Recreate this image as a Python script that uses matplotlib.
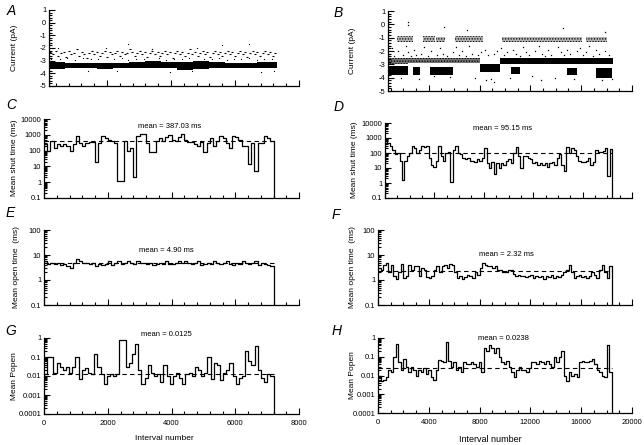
import numpy as np
import matplotlib
matplotlib.use("Agg")
import matplotlib.pyplot as plt
from matplotlib.ticker import MultipleLocator, LogLocator, FixedLocator, NullFormatter

plt.rcParams['font.family'] = ['Liberation Sans', 'DejaVu Sans']
plt.rcParams['axes.unicode_minus'] = False
plt.rcParams['hatch.linewidth'] = 0.6

# ---------------- data ----------------
# A: single-channel current, dense band + scattered dots (pA)
a_band_x = [200, 700, 1200, 1700, 2200, 2700, 3200, 3700, 4200, 4700, 5200, 5700, 6200, 6700, 7300]
a_band_lo = [-3.65, -3.6, -3.6, -3.65, -3.6, -3.6, -3.6, -3.55, -3.7, -3.65, -3.6, -3.6, -3.6, -3.6]
a_band_hi = [-3.1, -3.2, -3.2, -3.15, -3.15, -3.1, -3.0, -3.1, -3.1, -3.0, -3.1, -3.15, -3.15, -3.1]
a_dot_x = [230, 300, 420, 480, 560, 650, 720, 800, 870, 980, 1060, 1120, 1210, 1290, 1370,
           1440, 1520, 1600, 1690, 1770, 1840, 1930, 2010, 2090, 2160, 2240, 2320, 2400, 2470,
           2560, 2640, 2710, 2790, 2870, 2950, 3030, 3110, 3190, 3260, 3340, 3420, 3500, 3580,
           3650, 3730, 3810, 3890, 3970, 4050, 4120, 4200, 4280, 4360, 4440, 4520, 4600, 4670,
           4750, 4830, 4910, 4990, 5060, 5140, 5220, 5300, 5380, 5460, 5530, 5610, 5690, 5770,
           5850, 5920, 6000, 6080, 6160, 6240, 6310, 6390, 6470, 6550, 6630, 6700, 6780, 6860,
           6940, 7020, 7100, 7180, 7260]
a_dot_y = [-2.3, -2.5, -2.2, -2.6, -2.4, -2.3, -2.7, -2.2, -2.5, -2.4, -2.1, -2.6, -2.3, -2.5,
           -2.8, -2.4, -2.2, -2.5, -2.3, -2.6, -2.4, -2.2, -2.7, -2.3, -2.5, -2.4, -2.2, -2.6,
           -2.3, -2.5, -2.4, -2.1, -2.3, -2.6, -2.4, -2.2, -2.5, -2.3, -2.7, -2.4, -2.2, -2.5,
           -2.3, -2.6, -2.4, -2.2, -2.5, -2.3, -2.8, -2.4, -2.2, -2.5, -2.3, -2.6, -2.4, -2.1,
           -2.5, -2.3, -2.6, -2.4, -2.2, -2.5, -2.3, -2.7, -2.4, -2.2, -2.5, -2.3, -2.6, -2.4,
           -2.2, -2.5, -2.3, -2.6, -2.4, -2.2, -2.5, -2.3, -2.7, -2.4, -2.2, -2.5, -2.3, -2.6,
           -2.4, -2.2, -2.5, -2.3, -2.6, -2.4]
a_dot2_x = [260, 520, 760, 1010, 1250, 1500, 1730, 1980, 2210, 2460, 2660, 2900, 3150, 3400,
            3620, 3860, 4100, 4330, 4570, 4800, 5040, 5270, 5500, 5740, 5980, 6200, 6450, 6690,
            6910, 7150, 470, 2660, 5580, 6450, 3980, 1400, 4650, 6800, 2300, 7230]
a_dot2_y = [-2.85, -2.9, -2.75, -2.95, -2.8, -2.9, -2.85, -2.0, -2.9, -2.8, -2.95, -2.85,
            -2.9, -2.05, -2.8, -2.95, -2.85, -2.9, -2.8, -2.0, -2.9, -2.85, -2.8, -2.95, -2.85,
            -2.9, -2.8, -2.95, -2.85, -2.9, -2.0, -1.7, -1.75, -1.65, -3.9, -3.85, -3.8, -3.9,
            -3.8, -3.85]

# B: current with three levels
b_dense_x0 = [790, 2750, 4100, 8000, 9600, 10500, 14900, 17200]
b_dense_x1 = [2350, 3300, 5900, 9600, 18500, 11200, 15700, 18450]
b_dense_lo = [-3.8, -3.8, -3.8, -3.55, -2.95, -3.7, -3.8, -4.0]
b_dense_hi = [-3.1, -3.2, -3.2, -2.95, -2.55, -3.2, -3.3, -3.3]
b_mid_x0 = [790, 2350]
b_mid_x1 = [2350, 8000]
b_mid_lo = [-2.95, -2.9]
b_mid_hi = [-2.5, -2.55]
b_up_x0 = [1500, 3540, 4600, 6060, 9760, 16400]
b_up_x1 = [2750, 4490, 5270, 8260, 16100, 18000]
b_up_lo = [-1.3, -1.3, -1.35, -1.3, -1.35, -1.35]
b_up_hi = [-0.9, -0.9, -0.95, -0.85, -0.95, -0.95]
b_dot_x = [900, 1100, 1300, 1600, 1800, 2000, 2200, 2400, 2600, 2850, 3000, 3200, 3400, 3650,
           3900, 4150, 4400, 4650, 4900, 5150, 5400, 5650, 5900, 6150, 6400, 6650, 6900, 7150,
           7400, 7650, 7900, 8150, 8400, 8650, 8900, 9150, 9400, 9650, 9900, 10150, 10400,
           10650, 10900, 11150, 11400, 11650, 11900, 12150, 12400, 12650, 12900, 13150, 13400,
           13650, 13900, 14150, 14400, 14650, 14900, 15150, 15400, 15650, 15900, 16150, 16400,
           16650, 16900, 17150, 17400, 17650, 17900, 18150, 18400, 2360, 2400, 7000, 14560,
           17860, 8500, 9100, 12800, 5200]
b_dot_y = [-2.2, -1.8, -2.4, -2.0, -4.0, -2.3, -1.6, -2.1, -2.4, -1.9, -2.3, -4.1, -2.2, -1.7,
           -2.4, -2.0, -3.9, -2.3, -1.8, -2.2, -2.4, -3.95, -2.1, -1.7, -2.3, -2.0, -2.4, -1.6,
           -2.2, -4.0, -2.3, -2.1, -1.9, -2.3, -4.1, -2.2, -2.0, -1.8, -2.3, -2.1, -4.0, -1.9,
           -2.2, -2.4, -1.7, -2.1, -2.3, -3.9, -2.0, -1.6, -2.2, -2.4, -1.9, -2.3, -4.0, -1.7,
           -2.1, -2.3, -1.9, -2.2, -4.1, -2.0, -1.8, -2.3, -2.1, -1.6, -2.4, -1.9, -2.2, -4.2,
           -2.0, -2.3, -4.1, -0.05, 0.15, -0.4, -0.3, -0.6, -4.2, -4.3, -4.2, -0.2]

# C-H: windowed means along the record (left: 7200 intervals, right: 18400)
c_end = 7200
c_mean = 387.03
c_vals = [250, 90, 400, 150, 250, 200, 250, 200, 90, 250, 800, 300, 200, 300, 350, 350, 20,
          300, 800, 600, 500, 400, 300, 1.2, 1.2, 400, 100, 150, 2, 800, 1100, 1100, 300, 80,
          80, 400, 600, 400, 700, 1000, 500, 400, 700, 1100, 500, 350, 350, 250, 200, 350, 80,
          300, 600, 200, 400, 800, 600, 300, 150, 900, 700, 500, 200, 200, 15, 300, 5, 300,
          300, 900, 600, 400]

d_end = 18400
d_mean = 95.15
d_vals = [600, 500, 300, 150, 80, 100, 30, 1.5, 30, 60, 100, 300, 200, 100, 150, 300, 250,
          300, 50, 15, 12, 30, 300, 60, 30, 100, 120, 1.2, 150, 300, 100, 80, 50, 40, 50, 30,
          30, 25, 40, 30, 50, 200, 20, 10, 25, 4, 20, 10, 20, 15, 30, 40, 20, 100, 250, 60, 10,
          60, 60, 50, 40, 20, 25, 15, 20, 15, 20, 12, 20, 25, 15, 50, 80, 15, 6, 250, 100, 200,
          150, 60, 30, 25, 25, 30, 50, 15, 25, 150, 120, 120, 130, 200, 3, 180]

e_end = 7200
e_mean = 4.90
e_vals = [6, 4.5, 5, 4.5, 5, 4, 4.5, 3.5, 3, 5, 7, 6, 5, 5, 4.5, 5, 3.5, 4.5, 4, 4.5, 5.5, 4,
          5, 5.5, 4.5, 5, 6, 5, 4.5, 5.5, 5, 5, 4.5, 5, 4, 4.5, 5, 4.5, 5.5, 4.5, 4.5, 5, 6, 5,
          5.5, 5, 4.5, 5, 6, 4, 4.5, 5, 4.5, 5.5, 5, 4.5, 5, 5.5, 4.5, 4, 5, 4.5, 5.5, 5, 4.5,
          5, 5.5, 4, 5, 4.5, 4, 3.5]

f_end = 18400
f_mean = 2.32
f_vals = [3, 2.5, 4, 5, 2, 4, 1.5, 1.1, 2, 4.5, 1.2, 1.5, 4, 2.5, 3.5, 3.5, 1.5, 3, 2.5, 1.3,
          1.2, 1.5, 2.5, 3.5, 2, 3.5, 4, 3, 4.5, 4, 2, 1.2, 1.5, 1.1, 1.3, 1.6, 1.4, 1.2, 2, 1.6,
          3, 5, 4, 3.5, 3.5, 3, 3.5, 2.5, 2.5, 2, 2, 2.5, 2.5, 1.8, 1.4, 1.6, 1.4, 1.5, 1.3, 1.4,
          1.6, 1.2, 1.4, 1.3, 1.5, 1.1, 1.4, 1.3, 1.6, 1.2, 1.5, 1.3, 1.6, 2, 2.5, 4, 2, 1.2,
          1.5, 1.6, 1.3, 1.5, 1.2, 1.4, 2, 1.6, 1.2, 2.5, 4, 2, 1.2, 3.5]

g_end = 7200
g_mean = 0.0125
g_vals = [0.012, 0.1, 0.1, 0.015, 0.05, 0.03, 0.02, 0.03, 0.015, 0.03, 0.1, 0.007, 0.02,
          0.025, 0.015, 0.012, 0.15, 0.03, 0.012, 0.004, 0.01, 0.012, 0.01, 0.012, 0.8, 0.8,
          0.03, 0.05, 0.15, 0.5, 0.02, 0.004, 0.008, 0.04, 0.015, 0.01, 0.012, 0.005, 0.04,
          0.01, 0.004, 0.01, 0.015, 0.008, 0.004, 0.012, 0.015, 0.01, 0.03, 0.02, 0.01, 0.015,
          0.1, 0.007, 0.05, 0.04, 0.006, 0.015, 0.02, 0.05, 0.01, 0.004, 0.008, 0.01, 0.2,
          0.06, 0.04, 0.4, 0.02, 0.008, 0.005, 0.012, 0.01]

h_end = 18400
h_mean = 0.0238
h_vals = [0.01, 0.005, 0.006, 0.008, 0.02, 0.015, 0.1, 0.5, 0.05, 0.02, 0.08, 0.03, 0.015,
          0.03, 0.02, 0.01, 0.02, 0.015, 0.025, 0.012, 0.02, 0.008, 0.006, 0.02, 0.07, 0.06,
          0.05, 0.6, 0.06, 0.03, 0.05, 0.02, 0.03, 0.015, 0.05, 0.04, 0.04, 0.05, 0.04, 0.03,
          0.05, 0.015, 0.3, 0.2, 0.4, 0.3, 0.15, 0.3, 0.1, 0.05, 0.04, 0.06, 0.03, 0.015, 0.008,
          0.02, 0.03, 0.02, 0.02, 0.015, 0.025, 0.05, 0.05, 0.04, 0.06, 0.05, 0.04, 0.06, 0.04,
          0.03, 0.1, 0.05, 0.1, 0.2, 0.01, 0.005, 0.015, 0.01, 0.012, 0.008, 0.05, 0.06, 0.05,
          0.05, 0.06, 0.08, 0.04, 0.02, 0.015, 0.01, 0.008, 0.4, 0.015]

# ---------------- layout helpers ----------------
W, H = 644, 445
fig = plt.figure(figsize=(W / 100, H / 100), dpi=100)


def add_ax(left, top, right, bottom):
    return fig.add_axes([left / W, 1 - bottom / H, (right - left) / W, (bottom - top) / H])


def style(ax, right_side):
    for s in ('top', 'right'):
        ax.spines[s].set_visible(False)
    for s in ('left', 'bottom'):
        ax.spines[s].set_linewidth(0.9)
    ax.tick_params(which='both', direction='in', width=0.8, labelsize=5.5, pad=2)
    ax.tick_params(which='major', length=4)
    ax.tick_params(which='minor', length=2)
    if right_side:
        ax.xaxis.set_major_locator(MultipleLocator(4000))
        ax.xaxis.set_minor_locator(MultipleLocator(1000))
    else:
        ax.xaxis.set_major_locator(MultipleLocator(2000))
        ax.xaxis.set_minor_locator(MultipleLocator(400))


def log_y(ax, lo, hi, labels):
    ax.set_yscale('log')
    ax.set_ylim(lo, hi)
    ticks = [float(t) for t in labels]
    ax.yaxis.set_major_locator(FixedLocator(ticks))
    ax.set_yticklabels(labels)
    ax.yaxis.set_minor_locator(LogLocator(base=10, subs=np.arange(2, 10), numticks=20))
    ax.yaxis.set_minor_formatter(NullFormatter())


def step_panel(ax, vals, end, mean):
    vals = np.asarray(vals, dtype=float)
    edges = np.linspace(0, end, len(vals) + 1)
    ax.step(edges, np.append(vals, 1e-9), where='post', color='k', lw=0.9)
    ax.hlines(mean, 0, end, colors='k', lw=0.8, linestyles=(0, (4, 3)))


def current_panel(ax):
    ax.set_ylim(-5, 1)
    ax.yaxis.set_major_locator(MultipleLocator(1))
    ax.yaxis.set_minor_locator(MultipleLocator(0.2))


# ---------------- panel A ----------------
axA = add_ax(49, 10, 299, 86)
style(axA, False)
current_panel(axA)
axA.set_xlim(190, 8000)
axA.fill_between(a_band_x, a_band_lo + [a_band_lo[-1]], a_band_hi + [a_band_hi[-1]],
                 step='post', color='k', lw=0)
axA.plot(a_dot_x, a_dot_y, ls='none', marker='_', ms=1.8, mew=0.8, color='k')
axA.plot(a_dot2_x, a_dot2_y, ls='none', marker='s', ms=0.8, mew=0, color='k')
axA.set_xticklabels([])

# ---------------- panel B ----------------
axB = add_ax(388, 11, 632, 91)
style(axB, True)
current_panel(axB)
axB.set_xlim(790, 20000)
for x0, x1, lo, hi in zip(b_up_x0, b_up_x1, b_up_lo, b_up_hi):
    axB.fill_between([x0, x1], [lo, lo], [hi, hi], facecolor='0.7', edgecolor='k',
                     hatch='......', lw=0)
for x0, x1, lo, hi in zip(b_mid_x0, b_mid_x1, b_mid_lo, b_mid_hi):
    axB.fill_between([x0, x1], [lo, lo], [hi, hi], facecolor='0.45', edgecolor='k',
                     hatch='......', lw=0)
for x0, x1, lo, hi in zip(b_dense_x0, b_dense_x1, b_dense_lo, b_dense_hi):
    axB.fill_between([x0, x1], [lo, lo], [hi, hi], color='k', lw=0)
axB.plot(b_dot_x, b_dot_y, ls='none', marker='s', ms=0.9, mew=0, color='k')
axB.set_xticklabels([])

# ---------------- C / D ----------------
axC = add_ax(44, 119, 299, 198)
style(axC, False)
axC.set_xlim(0, 8000)
log_y(axC, 0.1, 10000, ['0.1', '1', '10', '100', '1000', '10000'])
step_panel(axC, c_vals, c_end, c_mean)
axC.set_xticklabels([])

axD = add_ax(385, 123, 632, 198)
style(axD, True)
axD.set_xlim(0, 20000)
log_y(axD, 0.1, 10000, ['0.1', '1', '10', '100', '1000', '10000'])
step_panel(axD, d_vals, d_end, d_mean)
axD.set_xticklabels([])

# ---------------- E / F ----------------
axE = add_ax(44, 230, 299, 305)
style(axE, False)
axE.set_xlim(0, 8000)
log_y(axE, 0.1, 100, ['0.1', '1', '10', '100'])
step_panel(axE, e_vals, e_end, e_mean)
axE.set_xticklabels([])

axF = add_ax(378, 230, 632, 305)
style(axF, True)
axF.set_xlim(0, 20000)
log_y(axF, 0.1, 100, ['0.1', '1', '10', '100'])
step_panel(axF, f_vals, f_end, f_mean)
axF.set_xticklabels([])

# ---------------- G / H ----------------
axG = add_ax(44, 338, 299, 414)
style(axG, False)
axG.set_xlim(0, 8000)
log_y(axG, 0.0001, 1, ['0.0001', '0.001', '0.01', '0.1', '1'])
step_panel(axG, g_vals, g_end, g_mean)
axG.tick_params(axis='x', pad=4)

axH = add_ax(378, 338, 632, 413)
style(axH, True)
axH.set_xlim(0, 20000)
log_y(axH, 0.0001, 1, ['0.0001', '0.001', '0.01', '0.1', '1'])
step_panel(axH, h_vals, h_end, h_mean)
axH.tick_params(axis='x', pad=4)


# ---------------- text ----------------
def ftext(x, y, s, **kw):
    fig.text(x / W, 1 - y / H, s, **kw)


for letter, x, y in [('A', 11, 11), ('B', 338, 13), ('C', 11, 105), ('D', 339, 107),
                     ('E', 10, 213), ('F', 336, 215), ('G', 11, 331), ('H', 337, 331)]:
    ftext(x, y, letter, fontsize=10, style='italic', ha='center', va='center')

for label, x, y in [('Current (pA)', 15, 48), ('Current (pA)', 352, 51),
                    ('Mean shut time (ms)', 15, 158), ('Mean shut time (ms)', 354, 160),
                    ('Mean open time  (ms)', 17, 267), ('Mean open time  (ms)', 353, 267),
                    ('Mean Popen', 15, 376), ('Mean Popen', 352, 375)]:
    ftext(x, y, label, fontsize=6, rotation=90, ha='center', va='center')

for label, x, y in [('mean = 387.03 ms', 170, 126), ('mean = 95.15 ms', 503, 128),
                    ('mean = 4.90 ms', 166, 251), ('mean = 2.32 ms', 506, 254),
                    ('mean = 0.0125', 166, 335), ('mean = 0.0238', 503, 338)]:
    ftext(x, y, label, fontsize=5.5, ha='center', va='center')

ftext(164, 438, 'Interval number', fontsize=6, ha='center', va='center')
ftext(490, 440, 'Interval number', fontsize=6.5, ha='center', va='center')

fig.savefig('out.png', dpi=100)
